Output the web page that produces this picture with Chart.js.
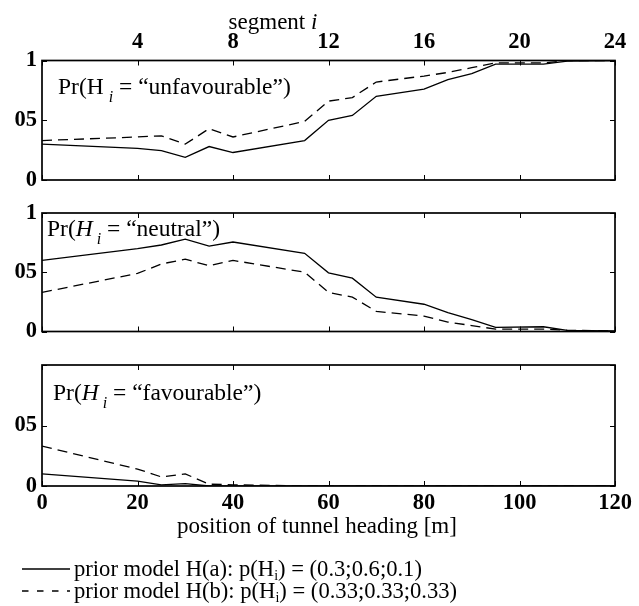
<!DOCTYPE html>
<html>
<head>
<meta charset="utf-8">
<script src="https://cdn.jsdelivr.net/npm/chart.js@4.4.1/dist/chart.umd.min.js"></script>
<style>
  body { margin: 0; background: #fff; }
  #wrap { position: relative; width: 639px; height: 606px; }
  canvas { position: absolute; left: 0; }
</style>
</head>
<body>
<div id="wrap">
  <canvas id="c1" width="639" height="200" style="top:0px"></canvas>
  <canvas id="c2" width="639" height="160" style="top:190px"></canvas>
  <canvas id="c3" width="639" height="261" style="top:345px"></canvas>
</div>
<script>
// --- data (position of tunnel heading in m) ---
const positions = [0, 20, 25, 30, 35, 40, 55, 60, 65, 70, 80, 85, 90, 95, 105, 110, 120];

// prior model H(a) - solid
const unfavourableA = [0.30, 0.265, 0.245, 0.19, 0.28, 0.23, 0.33, 0.50, 0.54, 0.70, 0.76, 0.84, 0.89, 0.97, 0.97, 0.995, 1.0];
const neutralA      = [0.60, 0.70, 0.73, 0.78, 0.72, 0.755, 0.66, 0.495, 0.45, 0.29, 0.23, 0.16, 0.10, 0.035, 0.04, 0.01, 0.005];
const favourableA   = [0.10, 0.04, 0.01, 0.02, 0.0, 0.0, 0.0, 0.0, 0.0, 0.0, 0.0, 0.0, 0.0, 0.0, 0.0, 0.0, 0.0];

// prior model H(b) - dashed
const unfavourableB = [0.33, 0.36, 0.37, 0.30, 0.43, 0.36, 0.49, 0.66, 0.69, 0.82, 0.87, 0.90, 0.94, 0.98, 0.98, 1.0, 1.0];
const neutralB      = [0.33, 0.49, 0.57, 0.61, 0.555, 0.60, 0.50, 0.33, 0.29, 0.17, 0.13, 0.08, 0.05, 0.02, 0.02, 0.01, 0.005];
const favourableB   = [0.33, 0.14, 0.075, 0.10, 0.015, 0.01, 0.0, 0.0, 0.0, 0.0, 0.0, 0.0, 0.0, 0.0, 0.0, 0.0, 0.0];

// ticks
const positionTicks = [0, 20, 40, 60, 80, 100, 120];
const segmentTicks = [4, 8, 12, 16, 20, 24];
const probTicks = [0, 0.5, 1];
const probLabels = ["0", "05", "1"];
const probLabelsNoTop = ["0", "05", ""];

const legendA = ["prior model H(a): p(H", "i", ") = (0.3;0.6;0.1)"];
const legendB = ["prior model H(b): p(H", "i", ") = (0.33;0.33;0.33)"];

const serif = '"Liberation Serif", "Times New Roman", serif';
Chart.defaults.font.family = serif;
Chart.defaults.color = "#000";

function toPoints(vals) {
    return positions.map((x, i) => ({ x: x, y: vals[i] }));
}

function drawParts(ctx, parts, x, y) {
    ctx.textAlign = "left";
    ctx.textBaseline = "alphabetic";
    ctx.fillStyle = "#000";
    for (const p of parts) {
        ctx.font = p.font;
        x += p.before || 0;
        ctx.fillText(p.text, x, y + (p.dy || 0));
        x += ctx.measureText(p.text).width;
    }
}

// box + inward tick marks + extra text
const framePlugin = {
    id: "frame",
    afterDraw(chart, args, opts) {
        const ctx = chart.ctx;
        const a = chart.chartArea;
        const sx = chart.scales.x, sy = chart.scales.y;
        ctx.save();
        ctx.strokeStyle = "#000";
        ctx.setLineDash([]);
        ctx.lineWidth = 1;
        ctx.beginPath();
        positionTicks.forEach(v => {
            const px = Math.round(sx.getPixelForValue(v)) + 0.5;
            ctx.moveTo(px, a.bottom); ctx.lineTo(px, a.bottom - 5);
            ctx.moveTo(px, a.top); ctx.lineTo(px, a.top + 5);
        });
        probTicks.forEach(v => {
            const py = Math.round(sy.getPixelForValue(v)) + 0.5;
            ctx.moveTo(a.left, py); ctx.lineTo(a.left + 5, py);
            ctx.moveTo(a.right, py); ctx.lineTo(a.right - 5, py);
        });
        ctx.stroke();
        ctx.lineWidth = 1.7;
        ctx.strokeRect(a.left, a.top, a.right - a.left, a.bottom - a.top);
        if (opts.decorate) opts.decorate(ctx, chart);
        ctx.restore();
    }
};

function makePanel(id, solid, dashed, cfg) {
    return new Chart(document.getElementById(id), {
        type: "line",
        data: {
            datasets: [{
                label: "H(a)",
                data: toPoints(solid),
                borderColor: "#000",
                borderWidth: 1.3,
                pointRadius: 0,
                tension: 0,
                fill: false
            }, {
                label: "H(b)",
                data: toPoints(dashed),
                borderColor: "#000",
                borderWidth: 1.3,
                borderDash: [10, 6],
                pointRadius: 0,
                tension: 0,
                fill: false
            }]
        },
        plugins: [framePlugin],
        options: {
            responsive: false,
            animation: false,
            layout: { padding: cfg.padding },
            plugins: {
                legend: { display: false },
                tooltip: { enabled: false },
                frame: { decorate: cfg.decorate }
            },
            scales: {
                x: {
                    type: "linear",
                    position: "bottom",
                    display: cfg.showBottom,
                    min: 0, max: 120,
                    afterBuildTicks: ax => { ax.ticks = positionTicks.map(v => ({ value: v })); },
                    afterFit: ax => { ax.height = cfg.showBottom ? 120 : 0; },
                    grid: { display: false, drawTicks: false },
                    border: { display: false },
                    ticks: { font: { size: 22.5, weight: "bold" }, padding: 4, maxRotation: 0, autoSkip: false }
                },
                x2: {
                    type: "linear",
                    position: "top",
                    display: cfg.showTop,
                    min: 0, max: 24,
                    afterBuildTicks: ax => { ax.ticks = segmentTicks.map(v => ({ value: v })); },
                    afterFit: ax => { ax.height = cfg.showTop ? 60.5 : 0; },
                    grid: { display: false, drawTicks: false },
                    border: { display: false },
                    ticks: { font: { size: 22.5, weight: "bold" }, padding: 5, maxRotation: 0, autoSkip: false }
                },
                y: {
                    min: 0, max: 1,
                    afterBuildTicks: ax => { ax.ticks = probTicks.map(v => ({ value: v })); },
                    afterFit: ax => { ax.width = 42; },
                    grid: { display: false, drawTicks: false },
                    border: { display: false },
                    ticks: {
                        font: { size: 22.5, weight: "bold" },
                        padding: 5,
                        callback: (v, i) => cfg.yLabels[i]
                    }
                }
            }
        }
    });
}

const fLab = `23.5px ${serif}`;
const fLabI = `italic 23.5px ${serif}`;
const fSub = `italic 16px ${serif}`;
const fTitle = `23px ${serif}`;
const fTitleI = `italic 23px ${serif}`;
const fLeg = `22.6px ${serif}`;

// panel 1: unfavourable
makePanel("c1", unfavourableA, unfavourableB, {
    padding: { left: 0, right: 24, top: 0, bottom: 20 },
    showTop: true, showBottom: false,
    yLabels: probLabels,
    decorate: (ctx, chart) => {
        drawParts(ctx, [
            { text: "Pr(H", font: fLab },
            { text: "i", font: fSub, before: 5, dy: 8 },
            { text: " = \u201cunfavourable\u201d)", font: fLab }
        ], 58, 94);
        ctx.font = fTitle;
        const w1 = ctx.measureText("segment ").width;
        ctx.font = fTitleI;
        const w2 = ctx.measureText("i").width;
        drawParts(ctx, [
            { text: "segment ", font: fTitle },
            { text: "i", font: fTitleI }
        ], 273 - (w1 + w2) / 2, 29);
    }
});

// panel 2: neutral
makePanel("c2", neutralA, neutralB, {
    padding: { left: 0, right: 24, top: 23, bottom: 17 },
    showTop: false, showBottom: false,
    yLabels: probLabels,
    decorate: (ctx, chart) => {
        drawParts(ctx, [
            { text: "Pr(", font: fLab },
            { text: "H", font: fLabI },
            { text: "i", font: fSub, before: 4, dy: 8 },
            { text: " = \u201cneutral\u201d)", font: fLab }
        ], 47, 236 - 190);
    }
});

// panel 3: favourable + x axis title + legend
makePanel("c3", favourableA, favourableB, {
    padding: { left: 0, right: 24, top: 20, bottom: 0 },
    showTop: false, showBottom: true,
    yLabels: probLabelsNoTop,
    decorate: (ctx, chart) => {
        const top = 345;
        drawParts(ctx, [
            { text: "Pr(", font: fLab },
            { text: "H", font: fLabI },
            { text: "i", font: fSub, before: 4, dy: 8 },
            { text: " = \u201cfavourable\u201d)", font: fLab }
        ], 53, 400 - top);

        ctx.font = fTitle;
        ctx.textAlign = "center";
        ctx.fillText("position of tunnel heading [m]", 317, 533 - top);

        // legend
        const rows = [
            { parts: legendA, dash: [], y: 576 },
            { parts: legendB, dash: [6.5, 8.5], y: 598 }
        ];
        rows.forEach(r => {
            ctx.setLineDash(r.dash);
            ctx.lineWidth = 1.3;
            ctx.beginPath();
            ctx.moveTo(22, r.y - 7 - top);
            ctx.lineTo(70, r.y - 7 - top);
            ctx.stroke();
            ctx.setLineDash([]);
            drawParts(ctx, [
                { text: r.parts[0], font: fLeg },
                { text: r.parts[1], font: `14px ${serif}`, dy: 4 },
                { text: r.parts[2], font: fLeg }
            ], 74, r.y - top);
        });
    }
});
</script>
</body>
</html>
